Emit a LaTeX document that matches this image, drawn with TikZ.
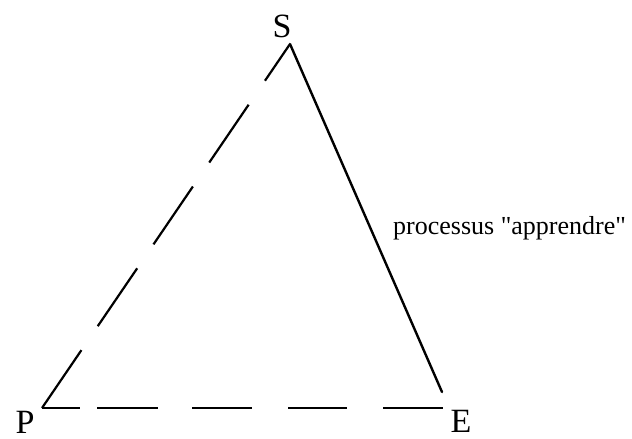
\documentclass[tikz,border=0pt]{standalone}
\usepackage{fontspec}
\setmainfont{Liberation Serif}
\usepackage{tikz}
\usetikzlibrary{positioning}

\tikzset{
  vertexlabel/.style={inner sep=0pt,anchor=base,font=\fontsize{34}{40}\selectfont},
  proclabel/.style={inner sep=0pt,anchor=base west,font=\fontsize{26}{30}\selectfont},
  sideline/.style={line width=2.4pt,line cap=round},
  dashside/.style={line width=2.2pt,dash pattern=on 70pt off 29pt}
}

\begin{document}
\begin{tikzpicture}[x=1pt,y=-1pt]
      \useasboundingbox (0,0) rectangle (632,439);

      % Corners
      \coordinate (apex) at (290,44);
      \coordinate (pcorner) at (42,408);
      \coordinate (eend) at (442,392);
      \coordinate (bend) at (443,408);

      % Vertex labels
      \node[vertexlabel] (S) at (282,37) {S};
      \node[vertexlabel] (P) at (25,433) {P};
      \node[vertexlabel] (E) at (461,432) {E};

      % Sides
      \draw[dashside] (pcorner) -- (apex);
      \draw[sideline] (apex) -- (eend);
      \draw[line width=2.2pt,
            dash pattern=on 38pt off 17pt on 61pt off 34pt on 60pt off 36pt on 59pt off 36pt on 60pt off 100pt]
        (pcorner) -- (bend);

      % Process label
      \node[proclabel] (proc) at (393,234)
        {processus \textquotedbl apprendre\textquotedbl};
    \end{tikzpicture}
\end{document}
